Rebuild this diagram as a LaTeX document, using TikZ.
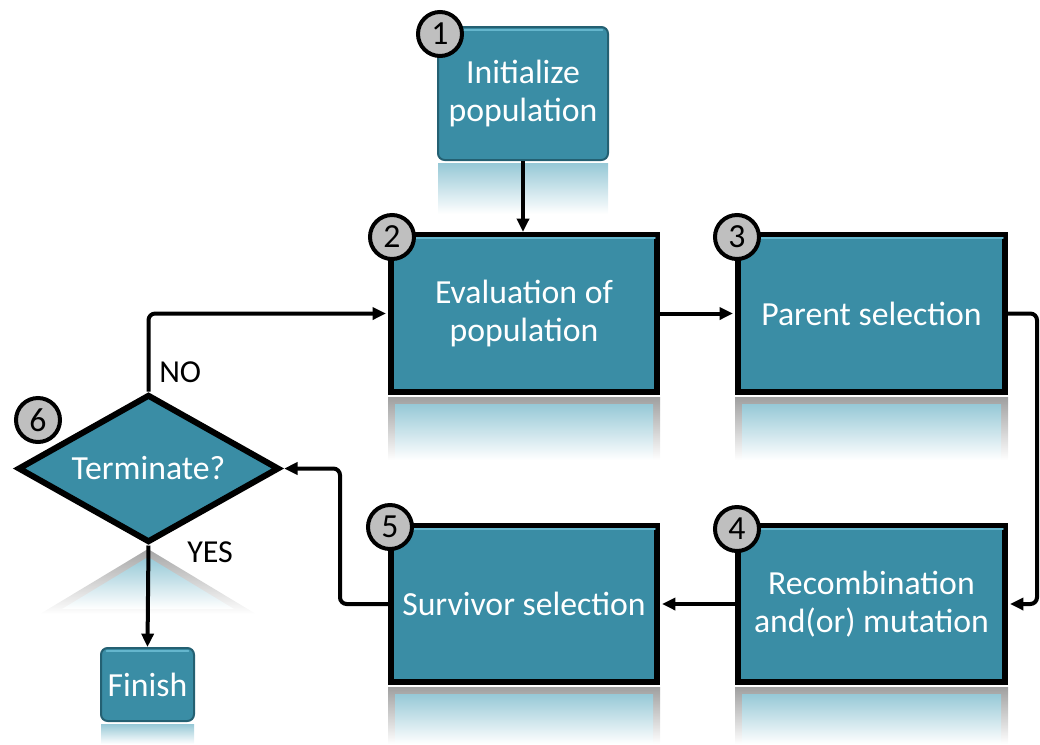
\documentclass[tikz,border=0pt]{standalone}
\usepackage{fontspec}
\setmainfont{Carlito}
\usetikzlibrary{arrows.meta,shapes.geometric}

\definecolor{boxteal}{RGB}{58,141,165}
\definecolor{boxedge}{RGB}{36,96,114}
\definecolor{bevel}{RGB}{100,182,205}
\definecolor{reflteal}{RGB}{150,200,214}
\definecolor{badgegray}{RGB}{191,191,191}

\newcommand\boxfont{\fontsize{25.3}{28.5}\selectfont}
\newcommand\tagfont{\fontsize{24}{28}\selectfont}

% faded mirror image under a box: x1, x2, ytop, ybottom
\newcommand\glassrefl[4]{%
  \shade[top color=gray!75, bottom color=white] (#1,#3) rectangle (#2,#4);
  \shade[top color=reflteal, bottom color=white] (#1+7,#3+7) rectangle (#2-7,#4);}

\begin{document}
\begin{tikzpicture}[x=0.75pt,y=-0.75pt,
  stepbox/.style={rectangle, draw=black, line width=4.5pt, fill=boxteal,
    text=white, font=\boxfont, align=center, inner sep=0pt},
  softbox/.style={rectangle, draw=boxedge, line width=1.5pt, rounded corners=5pt,
    fill=boxteal, text=white, font=\boxfont, align=center, inner sep=0pt},
  decision/.style={diamond, draw=black, line width=4.5pt, fill=boxteal,
    text=white, font=\boxfont, inner sep=0pt, aspect=1.74},
  badge/.style={circle, draw=black, line width=3pt, fill=badgegray,
    minimum size=33pt, inner sep=0pt, font=\boxfont},
  flow/.style={line width=3pt, rounded corners=5pt,
    -{Triangle[length=10pt,width=9pt]}},
  tag/.style={font=\tagfont, text=black, inner sep=0pt},
  sheen/.style={bevel, line width=2pt, line cap=round}]

\useasboundingbox (0,0) rectangle (1040,744);

% reflections
\shade[top color=reflteal, bottom color=white] (438,163) rectangle (608,214);
\glassrefl{388}{660}{397}{460}
\glassrefl{735}{1008}{397}{460}
\glassrefl{388}{660}{687}{744}
\glassrefl{735}{1008}{687}{744}
\shade[top color=gray!70, bottom color=white] (148,549) -- (40,614) -- (256,614) -- cycle;
\shade[top color=reflteal, bottom color=white] (148,557) -- (62,609) -- (234,609) -- cycle;
\shade[top color=reflteal, bottom color=white] (101,724) rectangle (194,744);

% process boxes
\node[softbox, minimum width=127.5pt, minimum height=99.75pt] (b1) at (523,93.5) {Initialize\\population};
\node[stepbox, minimum width=199.5pt, minimum height=117.75pt] (b2) at (524,313.5) {Evaluation of\\population};
\node[stepbox, minimum width=200.25pt, minimum height=117.75pt] (b3) at (871.5,313.5) {Parent selection};
\node[stepbox, minimum width=200.25pt, minimum height=117pt] (b4) at (871.5,604) {Recombination\\and(or) mutation};
\node[stepbox, minimum width=199.5pt, minimum height=117pt] (b5) at (524,604) {Survivor selection};
\node[decision, minimum width=196pt, minimum height=111pt] (dec) at (148.5,468.5) {Terminate?};
\node[softbox, minimum width=69.75pt, minimum height=54.75pt] (fin) at (147.5,684.5) {Finish};

% bevel highlights along the top edges
\foreach \b in {b2,b3,b4,b5}
  \draw[sheen] ([xshift=4pt,yshift=-4.5pt]\b.north west) -- ([xshift=-4pt,yshift=-4.5pt]\b.north east);
\foreach \b in {b1,fin}
  \draw[sheen, line width=1.5pt] ([xshift=5pt,yshift=-3pt]\b.north west) -- ([xshift=-5pt,yshift=-3pt]\b.north east);

% connectors
\coordinate (rturn) at (1037,313.5);
\coordinate (lturn) at (340,604);
\draw[flow] (b1.south) -- (b1.south |- b2.north);
\draw[flow, shorten >=1.5pt] (dec.north) |- (b2.west);
\draw[flow, shorten >=1.5pt] (b2.east) -- (b3.west);
\draw[flow, shorten >=1.5pt] (b3.east) -- (rturn) |- (b4.east);
\draw[flow, shorten >=1.5pt] (b4.west) -- (b5.east);
\draw[flow, shorten >=1.5pt] (b5.west) -- (lturn) |- (dec.east);
\draw[flow] (dec.south) -- (fin.north);

% branch labels
\node[tag, anchor=west] (no) at (159,372) {NO};
\node[tag, anchor=west] (yes) at (187,552) {YES};

% step numbers
\node[badge] (n1) at (440,34) {1};
\node[badge] (n2) at (392,237) {2};
\node[badge] (n3) at (737,237) {3};
\node[badge] (n4) at (737,529) {4};
\node[badge] (n5) at (390,527) {5};
\node[badge] (n6) at (38,420) {6};
\end{tikzpicture}
\end{document}
